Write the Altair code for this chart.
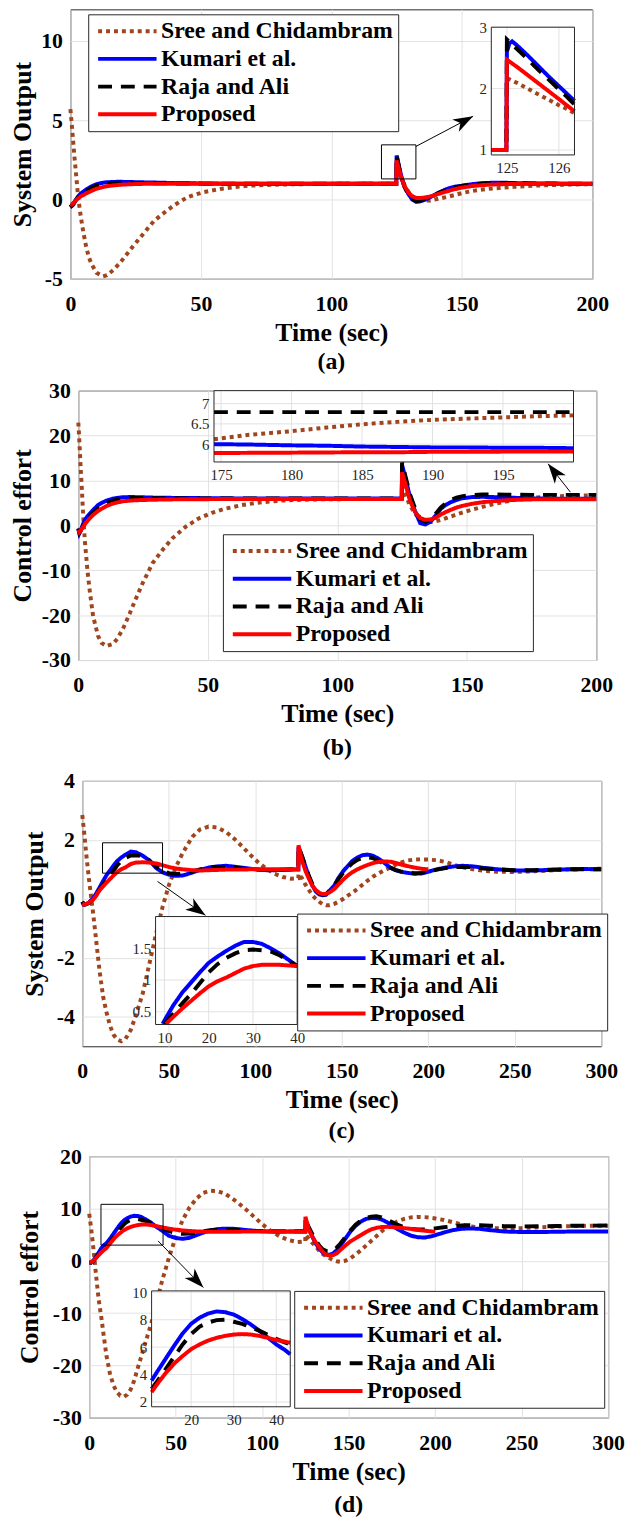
import altair as alt
import pandas as pd

FONT = "Liberation Serif, Times New Roman, DejaVu Serif, serif"
SERIES = ["Sree and Chidambram", "Kumari et al.", "Raja and Ali", "Proposed"]
COLORS = ["#A0461E", "#0000FF", "#000000", "#FF0000"]
DASHES = [[4, 4], [1, 0], [14, 9], [1, 0]]
GRID = "#e2e2e2"
FRAME = "#262626"
ARROW = "M0,0L-2,-0.7L-1.45,0L-2,0.7Z"
N = None

# ---------------- panel (a) ----------------
t_a = [0, 0.5, 1, 1.5, 2, 3, 4, 5, 6, 7, 8, 10, 12.5, 14, 16.5, 19, 21, 24, 26, 29,
       32, 35, 39, 42, 45, 48, 51, 55, 58, 63, 68, 75, 85, 100, 115, 124.9, 125, 126, 127, 128,
       129.5, 131, 132.5, 134, 136, 138, 141, 144, 147, 150, 154, 158, 162, 166, 170, 175, 180, 190, 200]
sree_a = [5.7, 4.8, 3.8, 2.8, 1.9, 0.1, -1.1, -2.1, -2.95, -3.6,
          -4.05, -4.62, -4.85, -4.78, -4.44, -4.0, -3.58, -2.95, -2.55, -1.95,
          -1.36, -0.95, -0.45, -0.13, 0.15, 0.32, 0.46, 0.59, 0.68, 0.78,
          0.87, 0.92, 0.96, 0.99, 1.0, 1.0, 2.17, 1.73, 1.3, 0.92,
          0.5, 0.22, 0.05, -0.03, -0.07, -0.06, 0.05, 0.15, 0.27, 0.4,
          0.54, 0.63, 0.7, 0.75, 0.8, 0.85, 0.89, 0.94, 0.97]
kumari_a = [-0.3, -0.42, -0.35, -0.2, -0.05, 0.2, 0.38, 0.5, 0.62, 0.72,
            0.82, 0.97, 1.06, 1.09, 1.11, 1.12, 1.11, 1.1, 1.09, 1.08,
            1.07, 1.06, 1.04, 1.03, 1.02, 1.02, 1.01, 1.01, 1.0, 1.0,
            1.0, 1.0, 1.0, 1.0, 1.0, 1.0, 2.78, 2.03, 1.35, 0.85,
            0.35, 0.0, -0.15, -0.12, 0.0, 0.15, 0.42, 0.65, 0.8, 0.87,
            0.97, 1.03, 1.06, 1.06, 1.04, 1.02, 1.01, 1.0, 1.0]
raja_a = [-0.3, -0.38, -0.3, -0.18, -0.05, 0.15, 0.3, 0.42, 0.53, 0.63,
          0.72, 0.87, 0.98, 1.02, 1.05, 1.06, 1.06, 1.05, 1.05, 1.04,
          1.03, 1.03, 1.02, 1.01, 1.01, 1.01, 1.0, 1.0, 1.0, 1.0,
          1.0, 1.0, 1.0, 1.0, 1.0, 1.0, 2.8, 1.99, 1.3, 0.8,
          0.32, 0.02, -0.1, -0.08, 0.03, 0.15, 0.4, 0.6, 0.76, 0.86,
          0.96, 1.01, 1.03, 1.04, 1.03, 1.02, 1.01, 1.0, 1.0]
prop_a = [-0.3, -0.32, -0.25, -0.16, -0.07, 0.08, 0.2, 0.28, 0.38, 0.46,
          0.54, 0.68, 0.79, 0.84, 0.89, 0.93, 0.95, 0.97, 0.98, 0.99,
          0.99, 1.0, 1.0, 1.0, 1.0, 1.0, 1.0, 1.0, 1.0, 1.0,
          1.0, 1.0, 1.0, 1.0, 1.0, 1.0, 2.47, 1.83, 1.3, 0.85,
          0.45, 0.2, 0.1, 0.09, 0.13, 0.2, 0.35, 0.5, 0.64, 0.75,
          0.85, 0.91, 0.95, 0.97, 0.98, 0.99, 1.0, 1.0, 1.0]
ti_a = [124.7, 124.99, 125.0, 125.05, 125.1, 125.2, 125.4, 125.6, 125.8, 126.0, 126.15, 126.3]
sree_ia = [1, 1, 2.17, 2.15, 2.13, 2.09, 2.0, 1.91, 1.82, 1.73, 1.67, 1.6]
kumari_ia = [1, 1, 2.6, 2.74, 2.77, 2.7, 2.54, 2.37, 2.2, 2.04, 1.92, 1.8]
raja_ia = [1, 1, 2.8, 2.76, 2.72, 2.64, 2.48, 2.31, 2.15, 1.99, 1.87, 1.74]
prop_ia = [1, 1, 2.47, 2.44, 2.41, 2.35, 2.22, 2.09, 1.96, 1.83, 1.73, 1.63]

# ---------------- panel (b) ----------------
t_b = [0, 0.4, 0.9, 1.4, 1.9, 2.6, 3.5, 4.5, 5.7, 7.6, 9, 10.9, 13.4, 15, 17.2, 19.8, 21, 24.9, 28.7, 32.5,
       36.3, 41.5, 46.5, 51.6, 56.7, 63, 70, 78, 86, 95, 105, 115, 124.9, 125, 126.5, 128, 130, 132, 134, 136,
       138, 140, 142, 144, 146, 148, 152, 156, 160, 165, 170, 175, 180, 185, 190, 195, 200]
sree_b = [22.9, 18.8, 12.9, 7.8, 1.9, -4.0, -9.9, -15.0, -20.2, -24.6,
          -26.2, -26.9, -26.4, -25.3, -23.1, -19.7, -18.0, -12.8, -8.4, -5.5,
          -2.9, -0.3, 1.55, 2.8, 3.7, 4.5, 5.1, 5.5, 5.7, 5.8,
          5.85, 5.88, 5.9, 9.0, 6.5, 4.5, 2.6, 1.5, 0.9, 0.75,
          0.9, 1.2, 1.6, 2.0, 2.4, 2.8, 3.5, 4.1, 4.7, 5.3,
          5.8, 6.14, 6.32, 6.49, 6.6, 6.66, 6.71]
kumari_b = [-0.7, -1.8, -1.2, -0.4, 0.4, 1.2, 2.0, 2.65, 3.4, 4.5,
            5.0, 5.5, 5.96, 6.1, 6.25, 6.3, 6.3, 6.25, 6.18, 6.14,
            6.12, 6.1, 6.07, 6.05, 6.02, 6.0, 5.99, 5.98, 5.98, 5.97,
            5.97, 5.97, 5.97, 13.5, 10.0, 6.5, 3.2, 0.5, 0.2, 0.8,
            2.2, 3.7, 4.6, 5.2, 5.65, 6.0, 6.3, 6.35, 6.3, 6.2,
            6.1, 6.0, 5.97, 5.94, 5.92, 5.91, 5.9]
raja_b = [-0.7, -1.6, -1.2, -0.6, 0.0, 0.7, 1.4, 2.1, 2.8, 3.8,
          4.4, 5.0, 5.5, 5.75, 5.95, 6.05, 6.08, 6.08, 6.05, 6.03,
          6.02, 6.0, 5.99, 5.98, 5.97, 5.97, 5.97, 5.97, 5.97, 5.97,
          5.97, 5.97, 5.97, 14.0, 10.5, 7.0, 3.8, 1.4, 0.8, 1.3,
          2.6, 4.0, 5.0, 5.7, 6.15, 6.45, 6.75, 6.85, 6.87, 6.84,
          6.81, 6.79, 6.79, 6.79, 6.79, 6.79, 6.79]
prop_b = [-1.0, -1.5, -1.1, -0.7, -0.3, 0.3, 0.95, 1.6, 2.3, 3.2,
          3.7, 4.3, 4.86, 5.1, 5.35, 5.5, 5.55, 5.65, 5.7, 5.75,
          5.78, 5.8, 5.82, 5.84, 5.85, 5.86, 5.87, 5.87, 5.88, 5.88,
          5.88, 5.88, 5.88, 11.8, 8.8, 5.6, 3.0, 1.6, 1.25, 1.3,
          1.7, 2.4, 3.0, 3.5, 3.95, 4.3, 4.8, 5.15, 5.38, 5.57,
          5.7, 5.78, 5.79, 5.8, 5.81, 5.815, 5.82]
ti_b = [174.5, 177, 180, 182.5, 185, 187.5, 190, 192.5, 195, 197.5, 200]
sree_ib = [6.12, 6.23, 6.32, 6.41, 6.49, 6.55, 6.6, 6.63, 6.66, 6.69, 6.71]
kumari_ib = [6.0, 5.99, 5.97, 5.96, 5.94, 5.93, 5.92, 5.92, 5.91, 5.91, 5.9]
raja_ib = [6.79, 6.79, 6.79, 6.79, 6.79, 6.79, 6.79, 6.79, 6.79, 6.79, 6.79]
prop_ib = [5.78, 5.785, 5.79, 5.795, 5.8, 5.8, 5.81, 5.81, 5.815, 5.82, 5.82]

# ---------------- panel (c) ----------------
t_c = [0, 1, 2.5, 4, 6.3, 8, 10, 12, 14, 16, 18, 20, 22.5, 25, 28, 31, 35, 38.8, 42.6, 46.4,
       50, 54, 58, 63.6, 68, 73, 78, 83, 88, 92, 97, 102, 107, 111, 116, 121, 124.9, 125, 127, 129,
       131, 133, 135, 137, 139, 141, 143, 145.7, 148, 151, 153.3, 156, 159, 162, 165, 168, 171, 174, 178, 181,
       184, 188, 192, 196, 200, 205, 210, 215, 220, 226, 232, 240, 250, 260, 270, 280, 290, 300]
sree_c = [2.84, 2.3, 1.4, 0.6, -0.5, -1.4, -2.45, -3.3, -3.85, -4.3,
          -4.6, -4.76, -4.83, -4.75, -4.45, -3.95, -3.2, -2.2, -1.2, -0.28,
          0.45, 1.06, 1.55, 2.1, 2.35, 2.45, 2.42, 2.27, 2.03, 1.8,
          1.5, 1.22, 1.0, 0.85, 0.74, 0.68, 0.7, 0.85, 0.7, 0.48,
          0.3, 0.12, 0.0, -0.1, -0.18, -0.22, -0.22, -0.17, -0.1, 0.0,
          0.1, 0.2, 0.33, 0.48, 0.62, 0.75, 0.85, 0.95, 1.06, 1.15,
          1.23, 1.3, 1.33, 1.34, 1.33, 1.31, 1.25, 1.15, 1.07, 1.0,
          0.95, 0.92, 0.91, 0.93, 0.96, 0.99, 1.01, 1.02]
kumari_c = [-0.1, -0.2, -0.18, -0.12, 0.02, 0.18, 0.38, 0.6, 0.8, 0.96,
            1.12, 1.27, 1.4, 1.5, 1.6, 1.58, 1.46, 1.3, 1.05, 0.9,
            0.82, 0.78, 0.79, 0.89, 0.98, 1.06, 1.1, 1.12, 1.09, 1.06,
            1.02, 0.99, 0.97, 0.97, 0.98, 0.99, 0.99, 1.75, 1.45, 1.1,
            0.75, 0.45, 0.25, 0.15, 0.12, 0.14, 0.28, 0.45, 0.7, 0.95,
            1.1, 1.28, 1.4, 1.48, 1.5, 1.46, 1.37, 1.25, 1.06, 0.97,
            0.92, 0.88, 0.85, 0.86, 0.92, 1.0, 1.06, 1.1, 1.12, 1.1,
            1.05, 1.0, 0.96, 0.96, 0.98, 1.0, 1.01, 1.0]
raja_c = [-0.1, -0.2, -0.18, -0.13, 0.0, 0.13, 0.31, 0.47, 0.63, 0.78,
          0.95, 1.12, 1.29, 1.39, 1.47, 1.48, 1.44, 1.3, 1.1, 0.95,
          0.87, 0.84, 0.86, 0.93, 1.0, 1.05, 1.08, 1.08, 1.06, 1.03,
          1.01, 0.99, 0.98, 0.98, 0.99, 1.0, 1.0, 1.77, 1.45, 1.1,
          0.78, 0.5, 0.3, 0.18, 0.14, 0.16, 0.28, 0.45, 0.66, 0.9,
          1.05, 1.2, 1.32, 1.39, 1.41, 1.38, 1.3, 1.2, 1.06, 0.98,
          0.93, 0.89, 0.87, 0.88, 0.93, 0.99, 1.04, 1.08, 1.09, 1.07,
          1.03, 1.0, 0.97, 0.97, 0.99, 1.0, 1.0, 1.0]
prop_c = [-0.15, -0.2, -0.17, -0.12, -0.03, 0.1, 0.29, 0.42, 0.55, 0.67,
          0.79, 0.9, 1.0, 1.07, 1.18, 1.23, 1.24, 1.23, 1.2, 1.14,
          1.08, 1.03, 1.0, 0.97, 0.96, 0.97, 0.98, 0.99, 0.99, 0.99,
          1.0, 1.0, 1.0, 1.0, 1.0, 1.0, 1.0, 1.82, 1.3, 0.95,
          0.68, 0.45, 0.3, 0.2, 0.16, 0.17, 0.22, 0.33, 0.48, 0.66,
          0.78, 0.9, 1.0, 1.08, 1.15, 1.21, 1.25, 1.27, 1.26, 1.22,
          1.17, 1.11, 1.06, 1.02, 1.0, N, N, N, N, N,
          N, N, N, N, N, N, N, N]
ti_c = [9.6, 10, 10.4, 12, 14, 16, 18, 20, 22, 24, 26, 28, 30, 32, 34, 36, 38, 40]
sree_ic = [N] * 18
kumari_ic = [0.31, 0.36, 0.41, 0.6, 0.8, 0.96, 1.12, 1.27, 1.37, 1.46, 1.54, 1.6, 1.6, 1.57, 1.5, 1.42, 1.32, 1.22]
raja_ic = [N, 0.31, 0.34, 0.47, 0.63, 0.78, 0.95, 1.12, 1.25, 1.35, 1.42, 1.47, 1.48, 1.47, 1.45, 1.39, 1.31, 1.22]
prop_ic = [N, N, 0.31, 0.42, 0.55, 0.67, 0.79, 0.9, 0.98, 1.04, 1.11, 1.18, 1.22, 1.24, 1.24, 1.24, 1.23, 1.22]

# ---------------- panel (d) ----------------
t_d = [0, 1, 2, 3, 4, 5.5, 7, 8.5, 10, 12, 14, 16, 18, 20, 22, 24, 26, 28, 30, 33,
       36, 39, 42, 46, 50, 54, 58, 62, 66, 70, 74, 78, 82, 86, 90, 95, 100, 105, 110, 115,
       120, 124.9, 125, 127, 129, 131, 133, 135, 137, 139, 141, 143, 145, 148, 151, 154, 157, 160, 163, 166,
       169, 172, 175, 178, 182, 186, 190, 194, 198, 200, 205, 210, 215, 220, 226, 232, 240, 250, 260, 270,
       280, 290, 300]
sree_d = [9.0, 6.5, 3.7, 0.5, -2.9, -7.5, -10.8, -14.6, -18.2, -21.6,
          -23.8, -25.1, -25.8, -26.0, -25.6, -24.6, -22.9, -20.6, -18.4, -15.1,
          -11.8, -7.9, -4.0, 0.5, 4.5, 7.8, 10.2, 11.9, 13.0, 13.4,
          13.35, 12.9, 12.1, 11.1, 10.0, 8.5, 7.0, 5.7, 4.7, 4.0,
          3.6, 3.7, 5.0, 4.2, 3.4, 2.7, 1.9, 1.3, 0.8, 0.5,
          0.1, -0.1, -0.2, 0.0, 0.5, 1.2, 2.0, 2.9, 3.8, 4.7,
          5.6, 6.4, 7.0, 7.5, 8.0, 8.3, 8.4, 8.35, 8.2, 8.1,
          7.8, 7.4, 6.95, 6.6, 6.35, 6.25, 6.2, 6.25, 6.4, 6.55,
          6.65, 6.7, 6.7]
kumari_d = [-0.3, -0.35, -0.1, 0.3, 0.8, 1.6, 2.4, 3.0, 3.35, 4.2,
            5.15, 6.1, 7.0, 7.7, 8.15, 8.45, 8.6, 8.55, 8.38, 7.86,
            7.2, 6.45, 5.8, 4.8, 4.35, 4.2, 4.4, 4.9, 5.4, 5.8,
            6.05, 6.15, 6.15, 6.05, 5.9, 5.75, 5.65, 5.6, 5.58, 5.58,
            5.6, 5.6, 7.8, 6.2, 4.6, 3.3, 2.3, 1.6, 1.2, 1.15,
            1.4, 2.0, 2.8, 4.2, 5.6, 6.7, 7.5, 8.0, 8.2, 8.15,
            7.9, 7.4, 6.8, 6.1, 5.4, 4.8, 4.5, 4.45, 4.7, 4.9,
            5.4, 5.85, 6.1, 6.2, 6.1, 5.85, 5.6, 5.5, 5.5, 5.55,
            5.6, 5.6, 5.6]
raja_d = [-0.3, -0.35, -0.15, 0.2, 0.6, 1.3, 1.9, 2.4, 2.75, 3.5,
          4.4, 5.3, 6.2, 6.95, 7.5, 7.8, 7.97, 8.0, 7.85, 7.6,
          7.25, 6.75, 6.3, 5.7, 5.3, 5.15, 5.2, 5.4, 5.65, 5.85,
          5.95, 6.0, 5.95, 5.88, 5.8, 5.72, 5.68, 5.65, 5.63, 5.63,
          5.63, 5.65, 7.6, 6.4, 5.1, 3.9, 2.9, 2.2, 1.85, 1.8,
          2.0, 2.5, 3.2, 4.5, 5.8, 6.9, 7.7, 8.2, 8.45, 8.5,
          8.3, 7.9, 7.4, 6.9, 6.4, 6.1, 6.0, 6.0, 6.1, 6.2,
          6.4, 6.6, 6.75, 6.8, 6.78, 6.7, 6.62, 6.58, 6.6, 6.65,
          6.7, 6.72, 6.75]
prop_d = [-0.3, -0.3, -0.1, 0.2, 0.55, 1.1, 1.6, 2.05, 2.45, 3.3,
          4.1, 4.8, 5.35, 5.85, 6.2, 6.48, 6.68, 6.82, 6.92, 6.94,
          6.82, 6.62, 6.4, 6.15, 5.95, 5.8, 5.7, 5.62, 5.58, 5.55,
          5.55, 5.55, 5.56, 5.57, 5.58, 5.6, 5.6, 5.6, 5.6, 5.6,
          5.6, 5.6, 8.4, 5.9, 4.6, 3.5, 2.6, 1.7, 1.15, 1.0,
          1.1, 1.4, 2.0, 2.9, 3.7, 4.3, 4.9, 5.5, 6.0, 6.3,
          6.45, 6.5, 6.45, 6.35, 6.25, 6.1, 5.9, 5.75, 5.62, 5.55,
          N, N, N, N, N, N, N, N, N, N,
          N, N, N]
ti_d = [10.7, 12, 14, 16, 18, 20, 22, 24, 26, 28, 30, 32, 34, 36, 38, 40, 42, 43.3]
sree_id = [N] * 18
kumari_id = [3.56, 4.2, 5.15, 6.1, 7.0, 7.7, 8.15, 8.45, 8.6, 8.55, 8.38, 8.05, 7.66, 7.2, 6.7, 6.2, 5.8, 5.48]
raja_id = [2.96, 3.5, 4.4, 5.3, 6.2, 6.95, 7.5, 7.8, 7.97, 8.0, 7.85, 7.7, 7.45, 7.2, 6.9, 6.6, 6.35, 6.2]
prop_id = [2.72, 3.3, 4.1, 4.8, 5.35, 5.85, 6.2, 6.48, 6.68, 6.82, 6.92, 6.95, 6.92, 6.82, 6.68, 6.52, 6.4, 6.32]


def long(t, vals):
    rows = []
    for s, v in zip(SERIES, vals):
        for ti, vi in zip(t, v):
            if vi is not None:
                rows.append({"t": ti, "v": vi, "s": s})
    return pd.DataFrame(rows)


color_scale = alt.Scale(domain=SERIES, range=COLORS)
dash_scale = alt.Scale(domain=SERIES, range=DASHES)

PANELS = [
    dict(cap="(a)", capoff=5, W=527, H=272, xdom=[0, 200], ydom=[-5, 12], xt=[0, 50, 100, 150, 200],
         yt=[-5, 0, 5, 10], ytitle="System Output", titleX=-48, spacer=3,
         t=t_a, vals=[sree_a, kumari_a, raja_a, prop_a],
         it=ti_a, ivals=[sree_ia, kumari_ia, raja_ia, prop_ia],
         ixdom=[124.7, 126.3], iydom=[0.92, 3.0], ixr=[425, 509], iyr=[147, 18], ixt=[125, 126], iyt=[1, 2, 3],
         leg=(18, 5), box=[119.2, 132.4, 1.3, 3.45], arrow=[132.4, 3.35, 154.3, 5.25], ang=332),
    dict(cap="(b)", capoff=10, W=523, H=272, xdom=[0, 200], ydom=[-30, 30], xt=[0, 50, 100, 150, 200],
         yt=[-30, -20, -10, 0, 10, 20, 30], ytitle="Control effort", titleX=-56, spacer=3,
         t=t_b, vals=[sree_b, kumari_b, raja_b, prop_b],
         it=ti_b, ivals=[sree_ib, kumari_ib, raja_ib, prop_ib],
         ixdom=[174.5, 200], iydom=[5.56, 7.32], ixr=[137, 500], iyr=[72, 0], ixt=[175, 180, 185, 190, 195],
         iyt=[6, 6.5, 7],
         leg=(146, 145), box=None, arrow=[190, 7.4, 181.4, 13.7], ang=232),
    dict(cap="(c)", capoff=7, W=524, H=268, xdom=[0, 300], ydom=[-5, 4], xt=[0, 50, 100, 150, 200, 250, 300],
         yt=[-4, -2, 0, 2, 4], ytitle="System Output", titleX=-48, spacer=16,
         t=t_c, vals=[sree_c, kumari_c, raja_c, prop_c],
         it=ti_c, ivals=[sree_ic, kumari_ic, raja_ic, prop_ic],
         ixdom=[8, 40], iydom=[0.3, 2.0], ixr=[74, 217], iyr=[246, 137], ixt=[10, 20, 30, 40],
         iyt=[0.5, 1, 1.5],
         leg=(217, 134), box=[11.7, 46.4, 0.87, 1.9], arrow=[43.5, 0.59, 71.2, -0.56], ang=35),
    dict(cap="(d)", capoff=9, W=524, H=264, xdom=[0, 300], ydom=[-30, 20], xt=[0, 50, 100, 150, 200, 250, 300],
         yt=[-30, -20, -10, 0, 10, 20], ytitle="Control effort", titleX=-60, spacer=11,
         t=t_d, vals=[sree_d, kumari_d, raja_d, prop_d],
         it=ti_d, ivals=[sree_id, kumari_id, raja_id, prop_id],
         ixdom=[10.7, 43.3], iydom=[1.65, 10.1], ixr=[63, 203], iyr=[253, 136], ixt=[20, 30, 40],
         iyt=[2, 4, 6, 8, 10],
         leg=(207, 136), box=[6.8, 42.7, 3.0, 10.8], arrow=[39.8, 3.8, 66, -5.1], ang=46),
]


def make_panel(p):
    W, H = p["W"], p["H"]
    leg = alt.Legend(title=None, orient="none", legendX=p["leg"][0], legendY=p["leg"][1],
                     direction="vertical", fillColor="white", strokeColor=FRAME, padding=5,
                     labelFont=FONT, labelFontSize=24, labelFontWeight="bold", labelColor="black",
                     labelLimit=400, symbolType="M-2.95,0L2.95,0", symbolSize=400, symbolStrokeWidth=4,
                     symbolOffset=22.5, labelOffset=22, rowPadding=4)
    xs = alt.Scale(domain=p["xdom"], nice=False, zero=False)
    ys = alt.Scale(domain=p["ydom"], nice=False, zero=False)
    xa = alt.Axis(values=p["xt"], title="Time (sec)", grid=True, gridColor=GRID, domain=False, ticks=False,
                  labelFont=FONT, labelFontSize=22, labelFontWeight="bold", labelColor="black",
                  labelPadding=15, labelFlush=False, labelOverlap=False,
                  titleFont=FONT, titleFontSize=26, titleFontWeight="bold", titleColor="black",
                  titlePadding=5, labelExpr="datum.value + ''")
    ya = alt.Axis(values=p["yt"], title=p["ytitle"], grid=True, gridColor=GRID, domain=False, ticks=False,
                  labelFont=FONT, labelFontSize=22, labelFontWeight="bold", labelColor="black",
                  labelPadding=8, labelFlush=False, labelOverlap=False, labelBaseline="middle",
                  titleFont=FONT, titleFontSize=26, titleFontWeight="bold", titleColor="black",
                  titleX=p["titleX"], titleY=H / 2, titleAngle=270, titleBaseline="middle",
                  titleAlign="center", labelExpr="datum.value + ''")

    def X(f):
        return alt.X(f, type="quantitative", scale=xs, axis=xa)

    def Y(f):
        return alt.Y(f, type="quantitative", scale=ys, axis=ya)

    col = alt.Color("s:N", scale=color_scale, legend=leg)
    dash = alt.StrokeDash("s:N", scale=dash_scale, legend=leg)

    main_df = long(p["t"], p["vals"])
    main_layers = []
    for s in SERIES:
        main_layers.append(
            alt.Chart(main_df[main_df.s == s]).mark_line(strokeWidth=4, strokeCap="butt").encode(
                x=X("t"), y=Y("v"), color=col, strokeDash=dash))
    if p["box"]:
        b = p["box"]
        bdf = pd.DataFrame({"x0": [b[0]], "x1": [b[1]], "y0": [b[2]], "y1": [b[3]]})
        main_layers.append(alt.Chart(bdf).mark_rect(fillOpacity=0, stroke="black", strokeWidth=1).encode(
            x=X("x0"), x2="x1", y=Y("y0"), y2="y1"))
    a = p["arrow"]
    adf = pd.DataFrame({"x0": [a[0]], "y0": [a[1]], "x1": [a[2]], "y1": [a[3]]})
    main_layers.append(alt.Chart(adf).mark_rule(color="black", strokeWidth=1).encode(
        x=X("x0"), y=Y("y0"), x2="x1", y2="y1"))
    main_layers.append(alt.Chart(adf).mark_point(shape=ARROW, filled=True, color="black", size=400,
                                                 angle=p["ang"], opacity=1).encode(x=X("x1"), y=Y("y1")))

    ixs = alt.Scale(domain=p["ixdom"], range=p["ixr"], nice=False, zero=False)
    iys = alt.Scale(domain=p["iydom"], range=p["iyr"], nice=False, zero=False, clamp=True)
    ixa = alt.Axis(orient="bottom", offset=p["iyr"][0] - H, values=p["ixt"], grid=False, domain=False,
                   ticks=False, labelFont=FONT, labelFontSize=15, labelFontWeight="normal",
                   labelColor="#262626", labelPadding=6, labelFlush=False, labelOverlap=False,
                   title=None, zindex=1, labelExpr="datum.value + ''")
    iya = alt.Axis(orient="left", offset=-p["ixr"][0], values=p["iyt"], grid=False, domain=False,
                   ticks=False, labelFont=FONT, labelFontSize=15, labelFontWeight="normal",
                   labelColor="#262626", labelPadding=5, labelFlush=False, labelOverlap=False,
                   labelBaseline="middle", title=None, zindex=1, labelExpr="datum.value + ''")

    def IX(f):
        return alt.X(f, type="quantitative", scale=ixs, axis=ixa)

    def IY(f):
        return alt.Y(f, type="quantitative", scale=iys, axis=iya)

    fdf = pd.DataFrame({"x0": [p["ixdom"][0]], "x1": [p["ixdom"][1]],
                        "y0": [p["iydom"][0]], "y1": [p["iydom"][1]]})
    gv = pd.DataFrame({"gx": p["ixt"], "gy0": [p["iydom"][0]] * len(p["ixt"]),
                       "gy1": [p["iydom"][1]] * len(p["ixt"])})
    gh = pd.DataFrame({"gy": p["iyt"], "gx0": [p["ixdom"][0]] * len(p["iyt"]),
                       "gx1": [p["ixdom"][1]] * len(p["iyt"])})
    ins_layers = [
        alt.Chart(fdf).mark_rect(fill="white", strokeWidth=0).encode(x=IX("x0"), x2="x1", y=IY("y0"), y2="y1"),
        alt.Chart(gv).mark_rule(color=GRID, strokeWidth=1).encode(x=IX("gx"), y=IY("gy0"), y2="gy1"),
        alt.Chart(gh).mark_rule(color=GRID, strokeWidth=1).encode(y=IY("gy"), x=IX("gx0"), x2="gx1"),
    ]
    ins_df = long(p["it"], p["ivals"])
    for s in SERIES:
        sub = ins_df[ins_df.s == s]
        if len(sub):
            ins_layers.append(alt.Chart(sub).mark_line(strokeWidth=4, strokeCap="butt").encode(
                x=IX("t"), y=IY("v"), color=col, strokeDash=dash))
    ins_layers.append(alt.Chart(fdf).mark_rect(fillOpacity=0, stroke=FRAME, strokeWidth=1).encode(
        x=IX("x0"), x2="x1", y=IY("y0"), y2="y1"))

    main = alt.layer(*main_layers)
    ins = alt.layer(*ins_layers)
    ch = alt.layer(main, ins).resolve_scale(x="independent", y="independent").resolve_axis(
        x="independent", y="independent").properties(
        width=W, height=H,
        title=alt.TitleParams(text=p["cap"], orient="bottom", font=FONT, fontSize=24, fontWeight="bold",
                              color="black", offset=p["capoff"], anchor="middle", frame="group"))

    sp = alt.Chart(pd.DataFrame({"z": [0]})).mark_point(opacity=0).encode(
        x=alt.X("z:Q", axis=None), y=alt.Y("z:Q", axis=None)).properties(
        width=p["spacer"], height=10, view=alt.ViewBackground(stroke="transparent"))
    return alt.hconcat(sp, ch, spacing=0).resolve_scale(color="independent", strokeDash="independent")


pa, pb, pc, pd_ = [make_panel(p) for p in PANELS]
top = alt.vconcat(pa, pb, spacing=4).resolve_scale(color="independent", strokeDash="independent")
bot = alt.vconcat(pc, pd_, spacing=0).resolve_scale(color="independent", strokeDash="independent")
chart = alt.vconcat(top, bot, spacing=8).resolve_scale(
    color="independent", strokeDash="independent").properties(
    padding={"left": -6, "top": -7, "right": 0, "bottom": 0}).configure_view(stroke=FRAME, strokeWidth=1)

chart.save("out.html", embed_options={"renderer": "svg", "actions": False})
